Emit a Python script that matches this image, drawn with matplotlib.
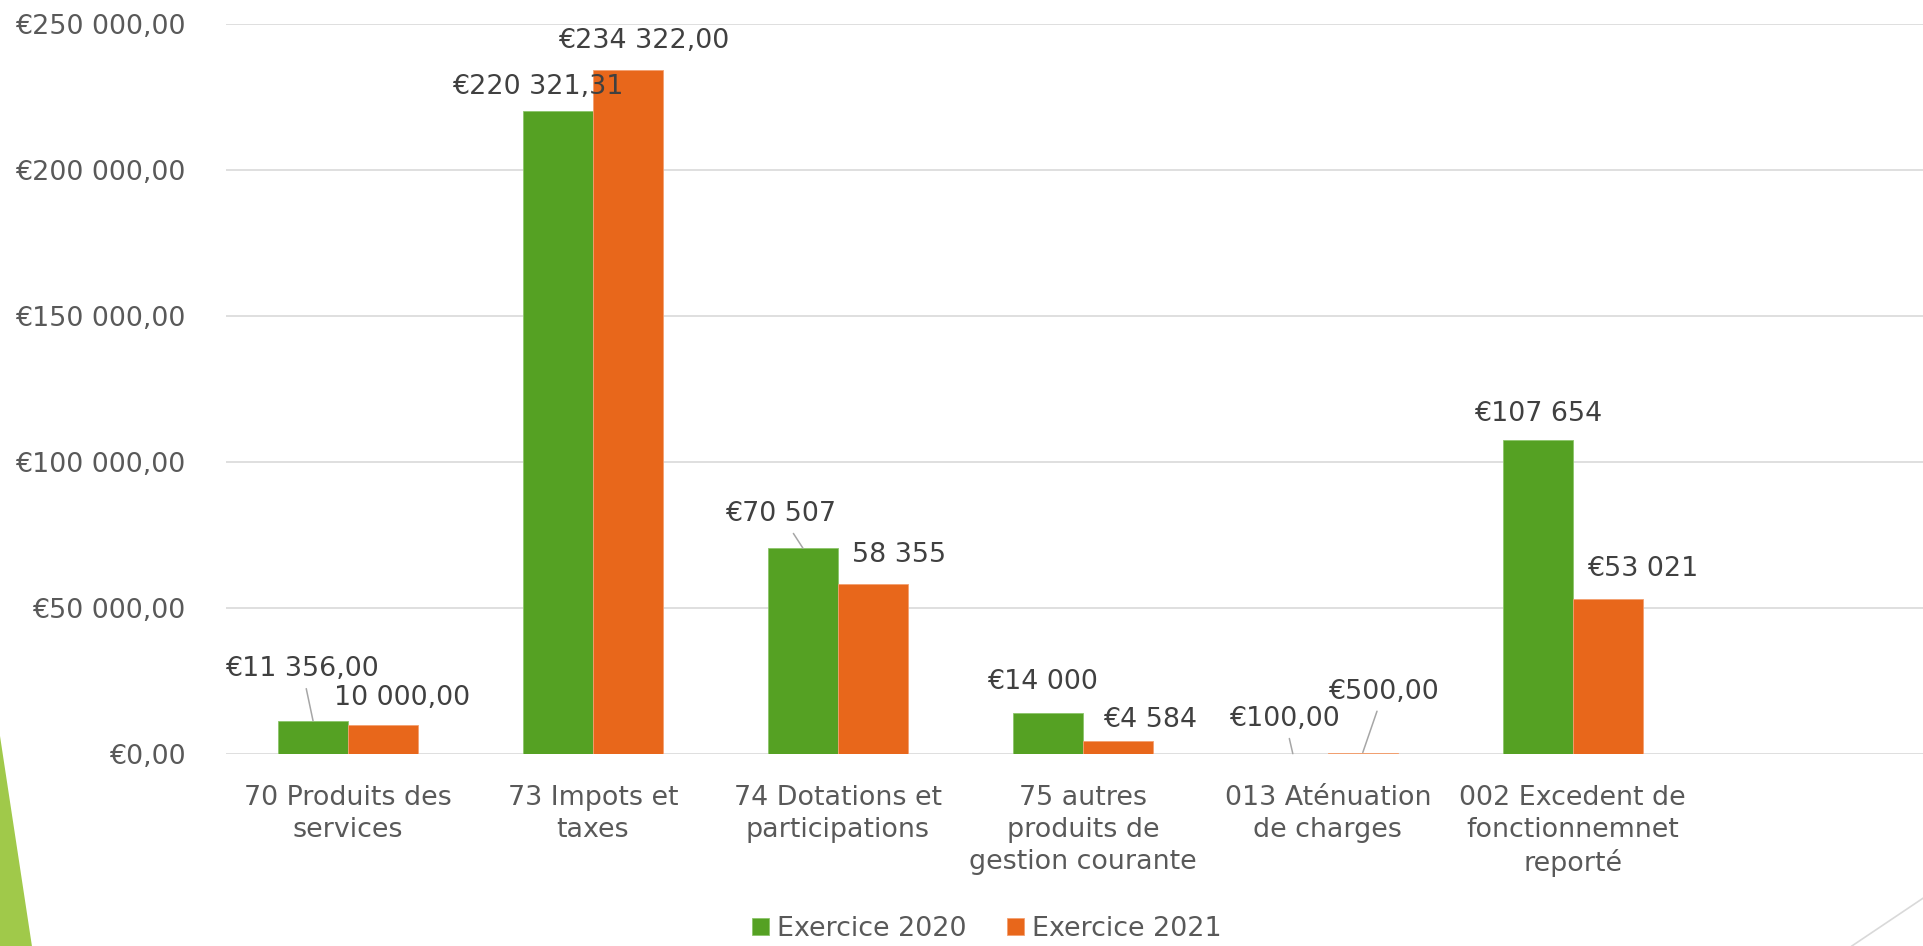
import matplotlib
matplotlib.use("Agg")
import matplotlib.pyplot as plt
from matplotlib.patches import Polygon
from matplotlib.lines import Line2D
import numpy as np

categories = ["70 Produits des\nservices", "73 Impots et\ntaxes", "74 Dotations et\nparticipations",
              "75 autres\nproduits de\ngestion courante", "013 Aténuation\nde charges",
              "002 Excedent de\nfonctionnemnet\nreporté"]
exercice_2020 = [11356.00, 220321.31, 70507, 14000, 100.00, 107654]
exercice_2021 = [10000.00, 234322.00, 58355, 4584, 500.00, 53021]
labels_2020 = ["€11 356,00", "€220 321,31", "€70 507", "€14 000", "€100,00", "€107 654"]
labels_2021 = ["10 000,00", "€234 322,00", "58 355", "€4 584", "€500,00", "€53 021"]
yticks = [0, 50000, 100000, 150000, 200000, 250000]

# label placement (pixels from bar top) and leader lines
off_2020 = [(-11, 55), (-20, 27), (-22, 37), (-5, 34), (-8, 38), (0, 29)]
off_2021 = [(19, 30), (16, 32), (26, 32), (32, 24), (21, 64), (35, 33)]
lead_2020 = [True, False, True, False, True, False]
lead_2021 = [False, False, False, False, True, False]

green = "#55A123"
orange = "#E8671B"
fs = 19.4

def euro(v, pos=None):
    s = f"{v:,.2f}".replace(",", " ").replace(".", ",")
    return "€" + s

fig = plt.figure(figsize=(19.23, 9.46), dpi=100)
ax = fig.add_axes([0.1173, 0.203, 1 - 0.1173, 0.9743 - 0.203])

x = np.arange(len(categories))
w = 0.2857
b1 = ax.bar(x - w / 2, exercice_2020, w, color=green, edgecolor="#8CC56A", linewidth=0.6,
            label="Exercice 2020", zorder=3)
b2 = ax.bar(x + w / 2, exercice_2021, w, color=orange, edgecolor="#F4A070", linewidth=0.6,
            label="Exercice 2021", zorder=3)

for bars, vals, txts, offs, leads in [(b1, exercice_2020, labels_2020, off_2020, lead_2020),
                                      (b2, exercice_2021, labels_2021, off_2021, lead_2021)]:
    for bar, v, t, (dx, dy), lead in zip(bars, vals, txts, offs, leads):
        xc = bar.get_x() + bar.get_width() / 2
        ap = None
        if lead:
            ap = dict(arrowstyle="-", color="#A6A6A6", lw=1.1, shrinkA=3, shrinkB=0)
        ax.annotate(t, xy=(xc, v), xytext=(dx, dy - 10), textcoords="offset pixels",
                    ha="center", va="baseline", fontsize=fs, color="#404040",
                    arrowprops=ap, zorder=4)

ax.set_xlim(-0.5, 6.43)
ax.set_ylim(0, 250000)
ax.set_yticks(yticks)
ax.yaxis.set_major_formatter(plt.FuncFormatter(euro))
ax.set_xticks(x)
ax.set_xticklabels(categories, linespacing=1.3)
ax.tick_params(axis="y", length=0, pad=28.8, labelsize=fs, labelcolor="#595959")
ax.tick_params(axis="x", length=0, pad=22, labelsize=fs, labelcolor="#595959")
ax.grid(axis="y", color="#D9D9D9", lw=1.2, zorder=0)
for s in ax.spines.values():
    s.set_visible(False)

fig.legend(handles=[b1, b2], loc="center", bbox_to_anchor=(0.513, 0.018), ncol=2,
           frameon=False, fontsize=fs, labelcolor="#595959", handlelength=0.63,
           handleheight=0.63, handletextpad=0.3, columnspacing=1.5)

# slide decorations
fig.patches.append(Polygon([(0, 0.222), (0.0166, 0), (0, 0)], closed=True,
                           transform=fig.transFigure, facecolor="#A0C94A", edgecolor="none"))
fig.lines.append(Line2D([0.963, 1.0], [0.0, 0.0505], transform=fig.transFigure,
                        color="#D9D9D9", lw=1.2))

fig.savefig("out.png", dpi=100)
